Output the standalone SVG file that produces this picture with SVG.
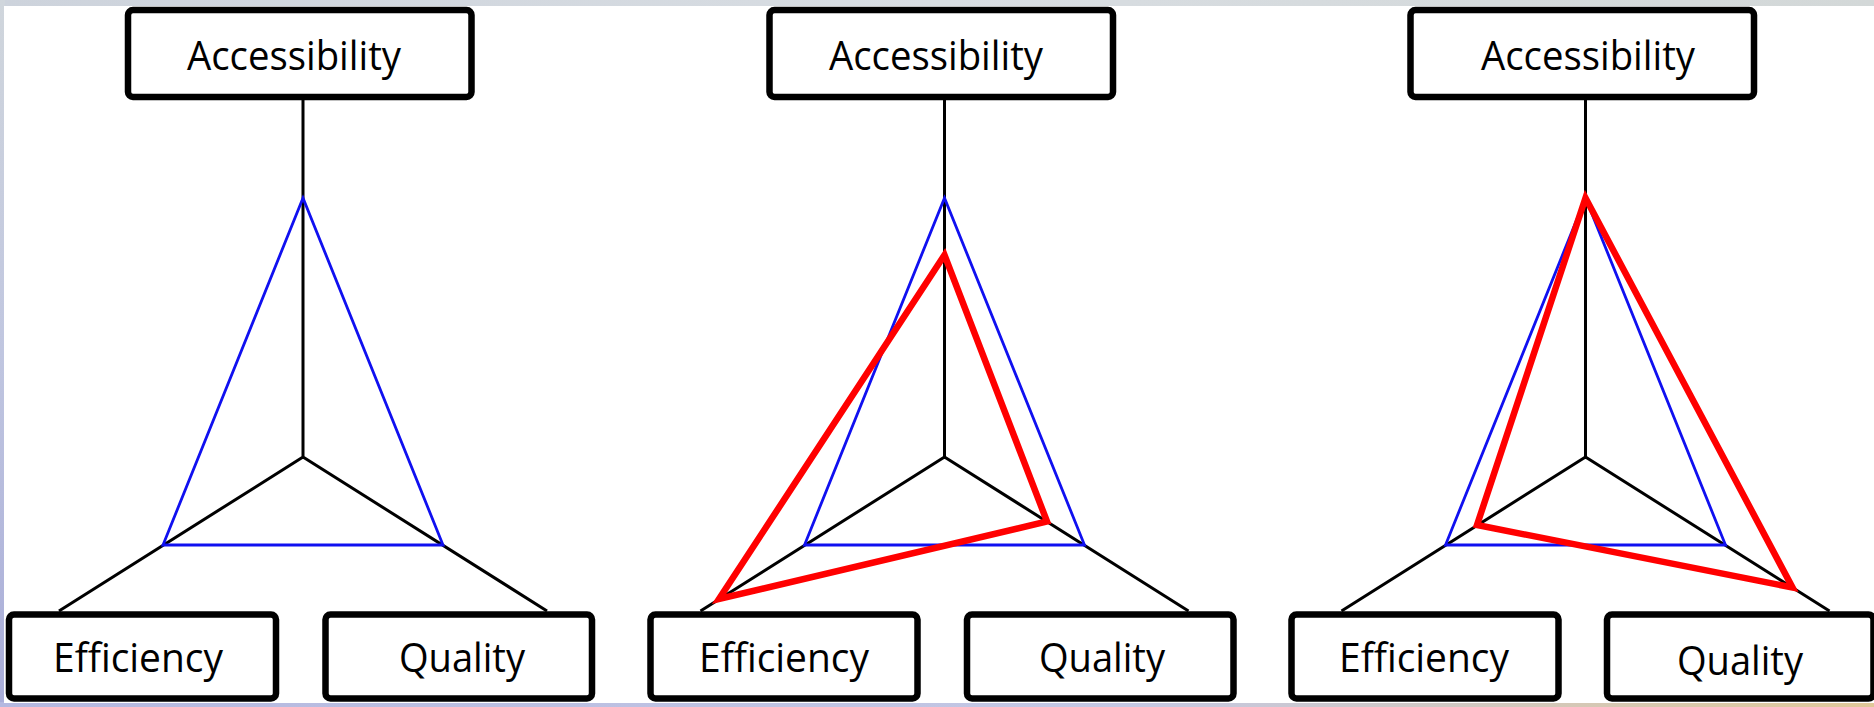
<svg xmlns="http://www.w3.org/2000/svg" width="1874" height="707" viewBox="0 0 1874 707">
  <defs>
    <linearGradient id="bgTop" x1="0" y1="0" x2="1" y2="0">
      <stop offset="0" stop-color="#cdd3dc"/>
      <stop offset="0.5" stop-color="#d8dde2"/>
      <stop offset="1" stop-color="#d3d8d8"/>
    </linearGradient>
    <linearGradient id="bgBottom" x1="0" y1="0" x2="1" y2="0">
      <stop offset="0" stop-color="#b4b8e0"/>
      <stop offset="0.6" stop-color="#c4c8e4"/>
      <stop offset="1" stop-color="#e0c898"/>
    </linearGradient>
    <linearGradient id="bgLeft" x1="0" y1="0" x2="0" y2="1">
      <stop offset="0" stop-color="#d0d6dc"/>
      <stop offset="0.5" stop-color="#c0c6e0"/>
      <stop offset="1" stop-color="#a8acd8"/>
    </linearGradient>
  </defs>
  <style>
    .box { fill: #ffffff; stroke: #000000; stroke-width: 6.5; }
    .lbl { font-family: "Open Sans", "Liberation Sans", sans-serif; font-size: 40px; font-weight: 500; fill: #000000; text-anchor: middle; }
    .axis { stroke: #000000; stroke-width: 3; fill: none; }
    .blue { stroke: #1010f0; stroke-width: 2.8; fill: none; stroke-linejoin: miter; }
    .red { stroke: #ff0000; stroke-width: 6.5; fill: none; stroke-linejoin: miter; }
  </style>

  <!-- background -->
  <rect x="0" y="0" width="1874" height="707" fill="url(#bgTop)"/>
  <rect x="0" y="0" width="5" height="707" fill="url(#bgLeft)"/>
  <rect x="0" y="702" width="1874" height="5" fill="url(#bgBottom)"/>
  <rect x="4" y="6" width="1870" height="697" fill="#ffffff"/>

  <!-- connectors: radar axes -->
  <g id="connectors">
    <path class="axis" d="M303,97 V457 M303,457 L59,611 M303,457 L547,611"/>
    <path class="axis" d="M944.5,97 V457 M944.5,457 L700.5,611 M944.5,457 L1188.5,611"/>
    <path class="axis" d="M1585.5,97 V457 M1585.5,457 L1341.5,611 M1585.5,457 L1829.5,611"/>
  </g>

  <!-- reference (blue) triangles -->
  <g id="baseline-triangles">
    <polygon class="blue" points="303,198 163,545 443,545"/>
    <polygon class="blue" points="944.5,198 804.5,545 1084.5,545"/>
    <polygon class="blue" points="1585.5,198 1445.5,545 1725.5,545"/>
  </g>

  <!-- changed (red) triangles -->
  <g id="changed-triangles">
    <polygon class="red" points="944.5,255 719,599 1047,521.5"/>
    <polygon class="red" points="1585.5,198 1477,525 1792.5,587.5"/>
  </g>

  <!-- panel 1 nodes -->
  <g id="p1-accessibility">
    <rect class="box" x="128" y="10" width="343.5" height="87" rx="5"/>
    <text class="lbl" x="294" y="69.5" textLength="214" lengthAdjust="spacingAndGlyphs">Accessibility</text>
  </g>
  <g id="p1-efficiency">
    <rect class="box" x="9" y="614.5" width="267" height="84" rx="5"/>
    <text class="lbl" x="138" y="672" textLength="170" lengthAdjust="spacingAndGlyphs">Efficiency</text>
  </g>
  <g id="p1-quality">
    <rect class="box" x="325.5" y="614.5" width="266.5" height="84" rx="5"/>
    <text class="lbl" x="462" y="672" textLength="126" lengthAdjust="spacingAndGlyphs">Quality</text>
  </g>

  <!-- panel 2 nodes -->
  <g id="p2-accessibility">
    <rect class="box" x="769.5" y="10" width="343.5" height="87" rx="5"/>
    <text class="lbl" x="936" y="69.5" textLength="214" lengthAdjust="spacingAndGlyphs">Accessibility</text>
  </g>
  <g id="p2-efficiency">
    <rect class="box" x="650.5" y="614.5" width="267" height="84" rx="5"/>
    <text class="lbl" x="784" y="672" textLength="170" lengthAdjust="spacingAndGlyphs">Efficiency</text>
  </g>
  <g id="p2-quality">
    <rect class="box" x="967" y="614.5" width="266.5" height="84" rx="5"/>
    <text class="lbl" x="1102" y="672" textLength="126" lengthAdjust="spacingAndGlyphs">Quality</text>
  </g>

  <!-- panel 3 nodes -->
  <g id="p3-accessibility">
    <rect class="box" x="1410.5" y="10" width="343.5" height="87" rx="5"/>
    <text class="lbl" x="1588" y="69.5" textLength="214" lengthAdjust="spacingAndGlyphs">Accessibility</text>
  </g>
  <g id="p3-efficiency">
    <rect class="box" x="1291.5" y="614.5" width="267" height="84" rx="5"/>
    <text class="lbl" x="1424" y="672" textLength="170" lengthAdjust="spacingAndGlyphs">Efficiency</text>
  </g>
  <g id="p3-quality">
    <rect class="box" x="1607" y="614.5" width="266.5" height="84" rx="5"/>
    <text class="lbl" x="1740" y="674.5" textLength="126" lengthAdjust="spacingAndGlyphs">Quality</text>
  </g>
</svg>
